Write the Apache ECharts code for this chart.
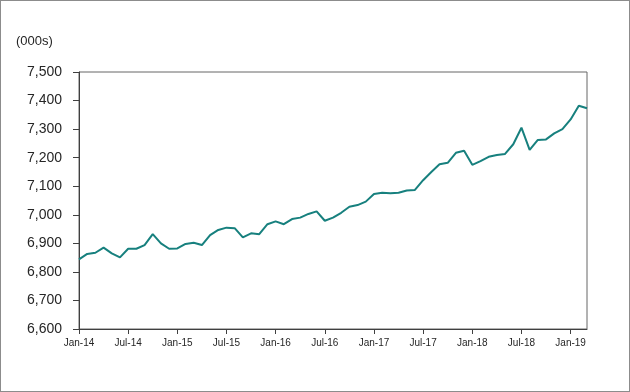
<!DOCTYPE html>
<html><head><meta charset="utf-8">
<script src="https://cdn.jsdelivr.net/npm/echarts@6/dist/echarts.min.js"></script>
<style>
html,body{margin:0;padding:0;background:#fff;}
#wrap{width:630px;height:392px;box-sizing:border-box;border:1px solid #8c8c8c;position:relative;}
#c{position:absolute;left:-1px;top:-1px;width:630px;height:392px;}
</style></head>
<body><div id="wrap"><div id="c"></div></div>
<script>
const months = ['Jan','Feb','Mar','Apr','May','Jun','Jul','Aug','Sep','Oct','Nov','Dec'];
const years = ['14','15','16','17','18','19'];
const categories = [];
for (const y of years) for (const m of months) categories.push(m + '-' + y);
categories.length = 63; // Jan-14 .. Mar-19

const employment = [
  6844, 6863, 6867, 6885, 6865, 6851, 6881, 6881, 6894, 6932, 6900, 6881,
  6882, 6898, 6902, 6894, 6929, 6947, 6955, 6953, 6921, 6935, 6932, 6967,
  6977, 6967, 6985, 6990, 7003, 7012, 6979, 6990, 7007, 7028, 7034, 7046,
  7073, 7077, 7075, 7077, 7085, 7087, 7121, 7150, 7177, 7182, 7217, 7224,
  7175, 7188, 7203, 7209, 7213, 7247, 7305, 7227, 7262, 7264, 7285, 7300,
  7334, 7382, 7373
];
const yMin = 6600, yMax = 7500, yStep = 100;
const unitLabel = '(000s)';

const chart = echarts.init(document.getElementById('c'), null, {renderer:'canvas'});
chart.setOption({
  animation:false,
  backgroundColor:'transparent',
  grid:{left:79, top:72, right:43, bottom:63, show:true, borderColor:'#666', borderWidth:1, backgroundColor:'transparent'},
  graphic:[{type:'text', left:16, top:35, style:{text:unitLabel, fontFamily:'Liberation Sans, Arial', fontSize:13, fill:'#262626'}}],
  xAxis:{
    type:'category', data:categories, boundaryGap:false,
    axisLine:{lineStyle:{color:'#404040', width:1}},
    axisTick:{show:true, interval:5, length:5, lineStyle:{color:'#404040'}},
    axisLabel:{interval:5, margin:9, fontFamily:'Liberation Sans, Arial', fontSize:10, color:'#262626'},
    splitLine:{show:false}
  },
  yAxis:{
    type:'value', min:yMin, max:yMax, interval:yStep,
    axisLine:{show:true, lineStyle:{color:'#404040', width:1}},
    axisTick:{show:true, length:6, lineStyle:{color:'#404040'}},
    axisLabel:{margin:17, fontFamily:'Liberation Sans, Arial', fontSize:14, color:'#262626',
      formatter:v=>v.toLocaleString('en-US')},
    splitLine:{show:false}
  },
  series:[{type:'line', data:employment, showSymbol:false, symbol:'none',
    lineStyle:{color:'#17807E', width:2}, itemStyle:{color:'#17807E'}}]
});
</script></body></html>
